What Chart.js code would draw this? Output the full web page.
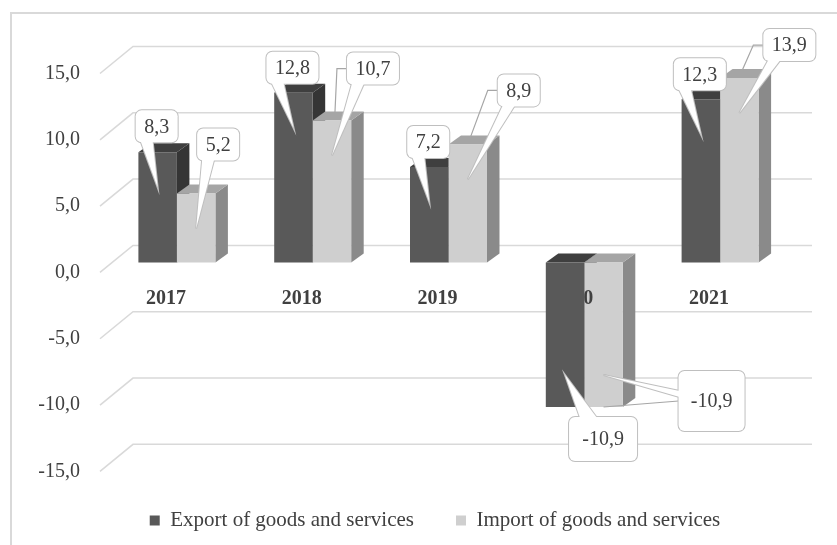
<!DOCTYPE html>
<html>
<head>
<meta charset="utf-8">
<script src="https://cdn.jsdelivr.net/npm/chart.js@4"></script>
<style>
  html, body { margin: 0; background: #fff; }
  #wrap { width: 837px; height: 545px; position: relative; }
</style>
</head>
<body>
<div id="wrap"><canvas id="grafico"></canvas></div>
<script>
const anios = ['2017', '2018', '2019', '2020', '2021'];
const exportaciones = [8.3, 12.8, 7.2, -10.9, 12.3];
const importaciones = [5.2, 10.7, 8.9, -10.9, 13.9];
const ticksY = [-15, -10, -5, 0, 5, 10, 15];
const series = ['Export of goods and services', 'Import of goods and services'];

const fuente = "'Liberation Serif', 'Times New Roman', serif";
const texto = '#404040';

function coma(v) {
    return Number(v).toFixed(1).replace('.', ',');
}

// fake depth for the columns
const prof = { dx: 12.5, dy: -9 };
const caras = [
    { front: '#595959', top: '#3f3f3f', side: '#353535' },
    { front: '#cfcfcf', top: '#a5a5a5', side: '#8a8a8a' }
];

// callout boxes, placed relative to the end of each bar
const globos = [
    [{ dx: -1, dy: -26 }, { dx: -1, dy: -25 }, { dx: -1, dy: -25 },
     { dx: 38, dy: 32, w: 68, h: 44, lado: 'top' }, { dx: -1, dy: -25 }],
    [{ dx: 22, dy: -49 }, { dx: 41, dy: -52, guia: true }, { dx: 51, dy: -54, guia: true },
     { dx: 108, dy: -6, w: 66, h: 60, lado: 'left', guia: true }, { dx: 50, dy: -33, guia: true }]
];

function rect(el) {
    const p = el.getProps(['x', 'y', 'base', 'width'], true);
    return {
        left: p.x - p.width / 2,
        right: p.x + p.width / 2,
        top: Math.min(p.y, p.base),
        bottom: Math.max(p.y, p.base)
    };
}

function poly(ctx, pts) {
    ctx.beginPath();
    ctx.moveTo(pts[0][0], pts[0][1]);
    pts.slice(1).forEach(p => ctx.lineTo(p[0], p[1]));
    ctx.closePath();
    ctx.fill();
}

const fondo = {
    id: 'fondo',
    afterLayout(chart) {
        // legend sits a bit right of the canvas centre
        chart.legend.left += 41;
        chart.legend.right += 41;
    },
    beforeDraw(chart) {
        const ctx = chart.ctx;
        const area = chart.chartArea;
        const y = chart.scales.y;
        ctx.save();
        ctx.fillStyle = '#fff';
        ctx.fillRect(0, 0, chart.width, chart.height);
        ctx.strokeStyle = '#d9d9d9';
        ctx.lineWidth = 2;
        ctx.strokeRect(11, 13, chart.width + 20, chart.height + 20);
        // side wall and back wall lines
        ctx.lineWidth = 1.5;
        ticksY.forEach(v => {
            const py = y.getPixelForValue(v);
            ctx.beginPath();
            ctx.moveTo(area.left - 9, py + 10);
            ctx.lineTo(area.left + 24, py - 17);
            ctx.lineTo(area.right + 24, py - 17);
            ctx.stroke();
        });
        ctx.restore();
    }
};

const relieve = {
    id: 'relieve',
    beforeDatasetsDraw(chart) {
        const ctx = chart.ctx;
        const metas = [chart.getDatasetMeta(0), chart.getDatasetMeta(1)];
        ctx.save();
        anios.forEach((a, i) => {
            metas.forEach((meta, d) => {
                const r = rect(meta.data[i]);
                ctx.fillStyle = caras[d].side;
                poly(ctx, [[r.right, r.top], [r.right + prof.dx, r.top + prof.dy],
                           [r.right + prof.dx, r.bottom + prof.dy], [r.right, r.bottom]]);
                ctx.fillStyle = caras[d].top;
                poly(ctx, [[r.left, r.top], [r.right, r.top],
                           [r.right + prof.dx, r.top + prof.dy], [r.left + prof.dx, r.top + prof.dy]]);
            });
        });
        ctx.restore();
    },
    afterDatasetDraw(chart, args) {
        // light bars are drawn first: the year label stays visible on top of them only
        if (args.index !== 1) return;
        const ctx = chart.ctx;
        ctx.save();
        ctx.beginPath();
        args.meta.data.forEach(el => {
            const r = rect(el);
            ctx.rect(r.left, r.top, r.right - r.left, r.bottom - r.top);
        });
        ctx.clip();
        chart.scales.x.drawLabels(chart.chartArea);
        ctx.restore();
    },
    afterDatasetsDraw(chart) {
        const ctx = chart.ctx;
        ctx.save();
        ctx.font = '20px ' + fuente;
        [0, 1].forEach(d => {
            const meta = chart.getDatasetMeta(d);
            const valores = chart.data.datasets[d].data;
            meta.data.forEach((el, i) => {
                const g = globos[d][i];
                const txt = coma(valores[i]);
                const w = g.w || ctx.measureText(txt).width + 17;
                const h = g.h || 32;
                const cx = el.x + g.dx;
                const cy = el.y + g.dy;
                const b = { l: cx - w / 2, t: cy - h / 2, r: cx + w / 2, btm: cy + h / 2 };
                const neg = el.y > el.base;
                const tip = [el.x, neg ? el.y - 32 : el.y + 35];

                if (g.guia) {
                    ctx.strokeStyle = '#a6a6a6';
                    ctx.lineWidth = 1.2;
                    ctx.beginPath();
                    ctx.moveTo(b.l, cy);
                    if (neg) {
                        ctx.lineTo(el.x, el.y);
                    } else {
                        ctx.lineTo(b.l - 10, cy);
                        ctx.lineTo(el.x + 3, el.y - 8);
                    }
                    ctx.stroke();
                }

                let base;
                if (g.lado === 'top') base = [[b.l + 11, b.t + 1], [b.l + 28, b.t + 1]];
                else if (g.lado === 'left') base = [[b.l + 1, cy - 10], [b.l + 1, cy - 4]];
                else base = [[b.l + 5, b.btm - 1], [b.l + 17, b.btm - 1]];

                ctx.strokeStyle = '#bfbfbf';
                ctx.lineWidth = 2;
                ctx.fillStyle = '#fff';
                ctx.beginPath();
                ctx.roundRect(b.l, b.t, w, h, 6);
                ctx.stroke();
                ctx.beginPath();
                ctx.moveTo(base[0][0], base[0][1]);
                ctx.lineTo(tip[0], tip[1]);
                ctx.lineTo(base[1][0], base[1][1]);
                ctx.stroke();
                ctx.beginPath();
                ctx.roundRect(b.l, b.t, w, h, 6);
                ctx.fill();
                poly(ctx, [base[0], tip, base[1]]);

                ctx.fillStyle = texto;
                ctx.textAlign = 'center';
                ctx.textBaseline = 'middle';
                ctx.fillText(txt, cx, cy + 1);
            });
        });
        ctx.restore();
    }
};

const datos = {
    labels: anios,
    datasets: [{
        label: series[0],
        data: exportaciones,
        backgroundColor: caras[0].front,
        borderColor: caras[0].front,
        borderWidth: 0
    }, {
        label: series[1],
        data: importaciones,
        backgroundColor: caras[1].front,
        borderColor: caras[1].front,
        borderWidth: 0
    }]
};

new Chart(document.getElementById('grafico'), {
    type: 'bar',
    data: datos,
    options: {
        responsive: true,
        maintainAspectRatio: false,
        animation: false,
        categoryPercentage: 0.567,
        barPercentage: 1,
        layout: { padding: { left: 0, right: 49, top: 63.5, bottom: 4 } },
        scales: {
            x: {
                position: { y: 0 },
                grid: { display: false, drawTicks: false },
                border: { display: false },
                ticks: {
                    color: texto,
                    font: { size: 20, weight: 'bold', family: fuente },
                    padding: 24,
                    labelOffset: -11,
                    maxRotation: 0,
                    autoSkip: false
                }
            },
            y: {
                min: -15.5,
                max: 15,
                afterBuildTicks: s => { s.ticks = ticksY.map(v => ({ value: v })); },
                afterFit: s => { s.width = 109; },
                grid: { display: false, drawTicks: false },
                border: { display: false },
                ticks: {
                    color: texto,
                    font: { size: 20, family: fuente },
                    padding: 29,
                    labelOffset: 10,
                    callback: v => coma(v)
                }
            }
        },
        plugins: {
            tooltip: { enabled: false },
            legend: {
                position: 'bottom',
                labels: {
                    boxWidth: 10,
                    boxHeight: 10,
                    padding: 42,
                    color: texto,
                    font: { size: 21, family: fuente }
                }
            }
        }
    },
    plugins: [fondo, relieve]
});
</script>
</body>
</html>
